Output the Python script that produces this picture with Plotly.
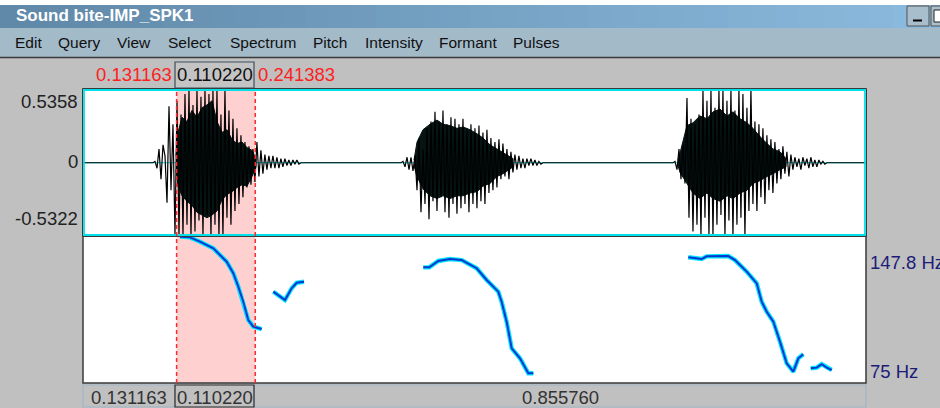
import plotly.graph_objects as go

W, H = 940, 408

# ---------------- data ----------------
window_title = "Sound bite-IMP_SPK1"
menu_items = ["Edit", "Query", "View", "Select", "Spectrum", "Pitch", "Intensity", "Formant", "Pulses"]

sel_start = 0.131163
sel_dur = 0.110220
sel_end = 0.241383
after_sel = 0.855760
total_dur = sel_start + sel_dur + after_sel

wave_max = 0.5358
wave_min = -0.5322
pitch_hi = 147.8
pitch_lo = 75

# waveform: peak values, one every 2.8 ms, per voiced burst
burst_start = [0.1009, 0.4484, 0.8295]
burst_step = 0.0028
burst1_amp = [0.01, -0.04, 0.10, -0.12, 0.13, 0.05, -0.29, 0.41, -0.20, 0.28, -0.53, 0.45, -0.53, 0.35,
              -0.53, 0.50, -0.45, 0.53, -0.53, 0.42, -0.50, 0.53, -0.42, 0.48, -0.53, 0.53, -0.38, 0.50,
              -0.53, 0.53, -0.45, 0.53, -0.53, 0.35, -0.53, 0.53, -0.40, 0.38, -0.45, 0.32, -0.35, 0.25,
              -0.30, 0.20, -0.25, 0.15, -0.18, 0.12, -0.16, 0.10, -0.14, 0.15, -0.10, 0.09, -0.08, 0.06,
              -0.05, 0.05, -0.04, 0.05, -0.04, 0.04, -0.04, 0.03, -0.03, 0.03, -0.02, 0.02, -0.02, 0.02,
              -0.01, 0.02, -0.01]
burst2_amp = [0.01, -0.03, 0.04, -0.05, 0.04, -0.06, 0.05, -0.20, 0.18, -0.36, 0.10, -0.30, 0.25, -0.41,
              0.30, -0.28, 0.37, -0.35, 0.30, -0.25, 0.38, -0.36, 0.28, -0.40, 0.33, -0.30, 0.32, -0.37,
              0.28, -0.33, 0.32, -0.30, 0.25, -0.36, 0.28, -0.30, 0.25, -0.33, 0.27, -0.28, 0.22, -0.30,
              0.24, -0.22, 0.18, -0.20, 0.15, -0.18, 0.17, -0.12, 0.14, -0.10, 0.10, -0.12, 0.08, -0.07,
              0.06, -0.05, 0.05, -0.04, 0.03, -0.04, 0.03, -0.02, 0.03, -0.02, 0.02, -0.02, 0.01, -0.01]
burst3_amp = [0.01, -0.05, 0.10, -0.12, 0.13, -0.15, 0.47, -0.40, 0.32, -0.50, 0.28, -0.45, 0.35, -0.53,
              0.53, -0.40, 0.45, -0.53, 0.53, -0.53, 0.40, -0.45, 0.53, -0.38, 0.53, -0.53, 0.45, -0.42,
              0.53, -0.53, 0.38, -0.45, 0.53, -0.40, 0.50, -0.53, 0.40, -0.35, 0.53, -0.30, 0.30, -0.35,
              0.28, -0.25, 0.25, -0.30, 0.20, -0.20, 0.17, -0.22, 0.15, -0.15, 0.10, -0.12, 0.12, -0.08,
              0.08, -0.10, 0.06, -0.05, 0.04, -0.03, 0.03, -0.05, 0.04, -0.02, 0.03, -0.04, 0.04, -0.03,
              0.02, -0.03, 0.02, -0.01, 0.01, -0.01]

# dense (solid black) core of each burst: time, upper and lower edge
core1_t = [0.1303, 0.1331, 0.1387, 0.1457, 0.1527, 0.1597, 0.1667, 0.1737, 0.1808, 0.1878, 0.1948,
           0.2018, 0.2088, 0.2158, 0.2228, 0.2298, 0.2368, 0.2424]
core1_hi = [0.05, 0.22, 0.33, 0.30, 0.38, 0.33, 0.40, 0.42, 0.45, 0.30, 0.22, 0.24, 0.17, 0.14, 0.15,
            0.11, 0.09, 0.03]
core1_lo = [-0.05, -0.17, -0.24, -0.28, -0.31, -0.36, -0.38, -0.40, -0.38, -0.35, -0.27, -0.23, -0.21,
            -0.18, -0.16, -0.17, -0.10, -0.03]
core2_t = [0.4638, 0.4680, 0.4764, 0.4862, 0.4960, 0.5044, 0.5142, 0.5240, 0.5325, 0.5423, 0.5521,
           0.5605, 0.5703, 0.5801, 0.5885, 0.6025]
core2_hi = [0.02, 0.15, 0.24, 0.28, 0.31, 0.28, 0.27, 0.25, 0.26, 0.24, 0.21, 0.18, 0.13, 0.10, 0.07, 0.03]
core2_lo = [-0.02, -0.10, -0.19, -0.24, -0.26, -0.24, -0.26, -0.24, -0.24, -0.22, -0.21, -0.17, -0.15,
            -0.10, -0.08, -0.03]
core3_t = [0.8337, 0.8365, 0.8463, 0.8547, 0.8645, 0.8743, 0.8828, 0.8926, 0.9024, 0.9108, 0.9206,
           0.9304, 0.9388, 0.9486, 0.9584, 0.9668, 0.9766, 0.9850]
core3_hi = [0.02, 0.07, 0.27, 0.29, 0.34, 0.32, 0.37, 0.39, 0.34, 0.37, 0.32, 0.29, 0.25, 0.19, 0.14,
            0.10, 0.08, 0.03]
core3_lo = [-0.02, -0.07, -0.15, -0.22, -0.26, -0.22, -0.26, -0.28, -0.24, -0.26, -0.22, -0.20, -0.15,
            -0.13, -0.10, -0.08, -0.05, -0.03]

# pitch contours (s, Hz)
pitch1_t = [0.1359, 0.1499, 0.1639, 0.1826, 0.2013, 0.2106, 0.2176, 0.2246, 0.2316, 0.2386, 0.2504]
pitch1_hz = [164.9, 164.4, 161.5, 157.0, 148.0, 140.2, 131.2, 121.0, 108.7, 104.2, 102.6]
pitch2_t = [0.2667, 0.2830, 0.2924, 0.2994, 0.3097]
pitch2_hz = [127.8, 122.2, 130.1, 133.8, 134.5]
pitch3_t = [0.4768, 0.4852, 0.4978, 0.5142, 0.5306, 0.5516, 0.5656, 0.5819, 0.5866, 0.5936, 0.6007,
            0.6123, 0.6240, 0.6310]
pitch3_hz = [144.2, 144.2, 148.5, 149.8, 149.1, 143.6, 135.7, 127.8, 121.0, 107.6, 89.6, 82.9, 72.8, 72.8]
pitch4_t = [0.8481, 0.8599, 0.8669, 0.8739, 0.9042, 0.9136, 0.9300, 0.9440, 0.9510, 0.9580, 0.9673,
            0.9766, 0.9860, 0.9953, 1.0023, 1.0093]
pitch4_hz = [151.0, 150.3, 149.8, 151.6, 151.8, 149.1, 141.3, 133.4, 121.0, 114.3, 107.6, 94.1, 79.5,
             73.9, 82.9, 85.6]
pitch5_t = [1.0197, 1.0281, 1.0351, 1.0421, 1.0491]
pitch5_hz = [76.2, 76.6, 78.9, 76.6, 75.0]

# ---------------- build ----------------
def px(x):
    return x / W


def py(y):
    return 1 - y / H


wave_t, wave_a = [0.0], [0.0]
for start, amps in zip(burst_start, [burst1_amp, burst2_amp, burst3_amp]):
    wave_t.append(start - burst_step)
    wave_a.append(0.0)
    for i, a in enumerate(amps):
        wave_t.append(start + i * burst_step)
        wave_a.append(a)
    wave_t.append(start + len(amps) * burst_step)
    wave_a.append(0.0)
wave_t.append(total_dur)
wave_a.append(0.0)

pt, ph = [], []
for tt, hh in [(pitch1_t, pitch1_hz), (pitch2_t, pitch2_hz), (pitch3_t, pitch3_hz),
               (pitch4_t, pitch4_hz), (pitch5_t, pitch5_hz)]:
    pt += tt + [None]
    ph += hh + [None]

# pitch axis: 147.8 Hz sits at pixel row 262, 75 Hz at row 370
hz_per_px = (pitch_hi - pitch_lo) / (370 - 262)
pitch_top = pitch_hi + (262 - 236) * hz_per_px
pitch_bot = pitch_lo - (383 - 370) * hz_per_px

fig = go.Figure()
fig.add_trace(go.Scatter(x=[0, total_dur], y=[0, 0], mode="lines", line=dict(color="#00D8E0", width=1),
                         xaxis="x", yaxis="y", hoverinfo="skip"))
for ct, chi, clo in [(core1_t, core1_hi, core1_lo), (core2_t, core2_hi, core2_lo),
                     (core3_t, core3_hi, core3_lo)]:
    fig.add_trace(go.Scatter(x=ct + ct[::-1], y=chi + clo[::-1], mode="lines", fill="toself",
                             fillcolor="#061414", line=dict(color="#061414", width=1),
                             xaxis="x", yaxis="y", hoverinfo="skip"))
fig.add_trace(go.Scatter(x=wave_t, y=wave_a, mode="lines", line=dict(color="#000000", width=1.2),
                         xaxis="x", yaxis="y", hoverinfo="skip"))
fig.add_trace(go.Scatter(x=pt, y=ph, mode="lines", line=dict(color="#00E4FF", width=4.4),
                         xaxis="x2", yaxis="y2", hoverinfo="skip"))
fig.add_trace(go.Scatter(x=pt, y=ph, mode="lines", line=dict(color="#0638D0", width=2),
                         xaxis="x2", yaxis="y2", hoverinfo="skip"))

ax = dict(showticklabels=False, showgrid=False, zeroline=False, showline=False, ticks="",
          fixedrange=True)
xdom = [px(83), px(866)]
fig.update_layout(
    width=W, height=H, autosize=False, showlegend=False,
    margin=dict(l=0, r=0, t=0, b=0, pad=0),
    paper_bgcolor="#C0C0C0", plot_bgcolor="#FFFFFF",
    xaxis=dict(ax, domain=xdom, range=[0, total_dur], anchor="y"),
    yaxis=dict(ax, domain=[py(236), py(89)], range=[wave_min, wave_max], anchor="x"),
    xaxis2=dict(ax, domain=xdom, range=[0, total_dur], anchor="y2"),
    yaxis2=dict(ax, domain=[py(383), py(236)], range=[pitch_bot, pitch_top], anchor="x2"),
)

shapes = []
# selection shading inside each panel
shapes.append(dict(type="rect", xref="x", yref="y", x0=sel_start, x1=sel_end, y0=wave_min, y1=wave_max,
                   fillcolor="#FFD0D0", line=dict(width=0), layer="below"))
shapes.append(dict(type="rect", xref="x2", yref="y2", x0=sel_start, x1=sel_end, y0=pitch_bot,
                   y1=pitch_top, fillcolor="#FFD0D0", line=dict(width=0), layer="below"))

# top white strip, title bar gradient, menu bar
shapes.append(dict(type="rect", xref="paper", yref="paper", x0=0, x1=1, y0=py(5), y1=1,
                   fillcolor="#FFFFFF", line=dict(width=0), layer="below"))
n = 40
c0, c1 = (96, 136, 168), (138, 186, 222)
for i in range(n):
    f = i / (n - 1)
    col = "rgb(%d,%d,%d)" % tuple(round(c0[k] + (c1[k] - c0[k]) * f) for k in range(3))
    shapes.append(dict(type="rect", xref="paper", yref="paper", x0=i / n, x1=(i + 1) / n + 0.002,
                       y0=py(28), y1=py(5), fillcolor=col, line=dict(width=0), layer="below"))
shapes.append(dict(type="rect", xref="paper", yref="paper", x0=0, x1=1, y0=py(57), y1=py(28),
                   fillcolor="#A3BAC9", line=dict(width=0), layer="below"))
shapes.append(dict(type="line", xref="paper", yref="paper", x0=0, x1=1, y0=py(57.5), y1=py(57.5),
                   line=dict(color="#3A3A3A", width=1.5), layer="below"))

# window buttons
shapes.append(dict(type="rect", xref="paper", yref="paper", x0=px(907), x1=px(929), y0=py(26), y1=py(6),
                   fillcolor="#A8BECC", line=dict(color="#505050", width=1), layer="above"))
shapes.append(dict(type="rect", xref="paper", yref="paper", x0=px(913), x1=px(922), y0=py(21.5),
                   y1=py(19.5), fillcolor="#000000", line=dict(width=0), layer="above"))
shapes.append(dict(type="rect", xref="paper", yref="paper", x0=px(931), x1=px(942), y0=py(26), y1=py(6),
                   fillcolor="#A8BECC", line=dict(color="#505050", width=1), layer="above"))
shapes.append(dict(type="rect", xref="paper", yref="paper", x0=px(934), x1=px(942), y0=py(22), y1=py(10),
                   fillcolor="#FFFFFF", line=dict(color="#202020", width=1), layer="above"))

# selection duration box above the panel
shapes.append(dict(type="rect", xref="paper", yref="paper", x0=px(175), x1=px(254), y0=py(88), y1=py(62),
                   fillcolor="#C4C4C4", line=dict(color="#3E4E5C", width=1.2), layer="above"))

# bottom boxes
shapes.append(dict(type="rect", xref="paper", yref="paper", x0=px(83), x1=px(175), y0=py(407), y1=py(385),
                   fillcolor="#C0C0C0", line=dict(color="#A0B6C6", width=1.2), layer="above"))
shapes.append(dict(type="rect", xref="paper", yref="paper", x0=px(254), x1=px(866), y0=py(407), y1=py(385),
                   fillcolor="#C0C0C0", line=dict(color="#A0B6C6", width=1.2), layer="above"))
shapes.append(dict(type="rect", xref="paper", yref="paper", x0=px(175), x1=px(254), y0=py(407), y1=py(385),
                   fillcolor="#C0C0C0", line=dict(color="#2A2A2A", width=1.2), layer="above"))

# panel borders
shapes.append(dict(type="rect", xref="paper", yref="paper", x0=px(83), x1=px(866), y0=py(383), y1=py(236),
                   fillcolor="rgba(0,0,0,0)", line=dict(color="#3A3A3A", width=1.5), layer="above"))
shapes.append(dict(type="rect", xref="paper", yref="paper", x0=px(82.5), x1=px(866.5), y0=py(236.5),
                   y1=py(88.5), fillcolor="rgba(0,0,0,0)", line=dict(color="#3A3A3A", width=1),
                   layer="above"))
shapes.append(dict(type="rect", xref="paper", yref="paper", x0=px(84), x1=px(865), y0=py(235),
                   y1=py(90), fillcolor="rgba(0,0,0,0)", line=dict(color="#00E0E8", width=1.8),
                   layer="above"))

# selection boundaries (red dashed)
for xv in (sel_start, sel_end):
    shapes.append(dict(type="line", xref="x", yref="paper", x0=xv, x1=xv, y0=py(383), y1=py(89),
                       line=dict(color="#FF2A2A", width=1.5, dash="4px,3px"), layer="above"))

fig.update_layout(shapes=shapes)

FONT = "Liberation Sans, Arial, sans-serif"
ann = []


def text(s, x, y, size, color, xanchor="left", bold=False):
    ann.append(dict(text=("<b>%s</b>" % s) if bold else s, x=px(x), y=py(y), xref="paper", yref="paper",
                    xanchor=xanchor, yanchor="middle", showarrow=False,
                    font=dict(family=FONT, size=size, color=color)))


text(window_title, 14, 16, 17, "#FFFFFF", bold=True)
menu_x = [13, 56, 115, 166, 228, 311, 363, 437, 511]
for label, mx in zip(menu_items, menu_x):
    text(label, mx, 43, 15.5, "#101010")

text("%.6f" % sel_start, 174, 74, 18.5, "#FF2020", xanchor="right")
text("%.6f" % sel_dur, 214.5, 74, 18.5, "#111111", xanchor="center")
text("%.6f" % sel_end, 256, 74, 18.5, "#FF2020")

text("%.4f" % wave_max, 80, 101, 18.5, "#222222", xanchor="right")
text("0", 80, 162, 18.5, "#222222", xanchor="right")
text("%.4f" % wave_min, 80, 218, 18.5, "#222222", xanchor="right")

text("%.1f Hz" % pitch_hi, 868, 262, 18.5, "#1C1C78")
text("%d Hz" % pitch_lo, 868, 371, 18.5, "#1C1C78")

text("%.6f" % sel_start, 129, 397, 18.5, "#333333", xanchor="center")
text("%.6f" % sel_dur, 214.5, 397, 18.5, "#333333", xanchor="center")
text("%.6f" % after_sel, 560, 397, 18.5, "#333333", xanchor="center")

fig.update_layout(annotations=ann)
fig.write_html("out.html", config={"displayModeBar": False},
               post_script="document.body.style.margin='0';document.body.style.overflow='hidden';")
